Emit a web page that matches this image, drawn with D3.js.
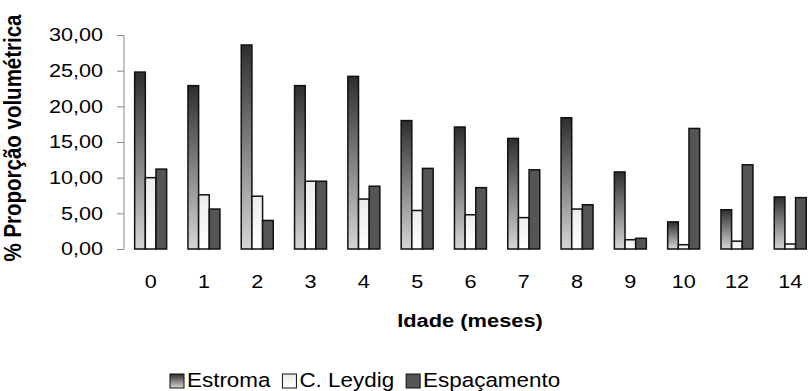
<!DOCTYPE html>
<html>
<head>
<meta charset="utf-8">
<script src="https://cdn.jsdelivr.net/npm/d3@7"></script>
<style>
  body { margin: 0; background: #fff; }
  text { font-family: "Liberation Sans", Arial, sans-serif; fill: #000; }
</style>
</head>
<body>
<div id="chart"></div>
<script>
var idades = ["0", "1", "2", "3", "4", "5", "6", "7", "8", "9", "10", "12", "14"];
var series = ["Estroma", "C. Leydig", "Espaçamento"];
var estroma = [24.8, 22.9, 28.6, 22.9, 24.2, 18.0, 17.1, 15.5, 18.4, 10.8, 3.8, 5.5, 7.3];
var leydig = [10.0, 7.6, 7.4, 9.5, 7.0, 5.4, 4.8, 4.4, 5.6, 1.3, 0.6, 1.1, 0.7];
var espacamento = [11.2, 5.6, 4.0, 9.5, 8.8, 11.3, 8.6, 11.1, 6.2, 1.5, 16.9, 11.8, 7.2];
var yTicks = [0, 5, 10, 15, 20, 25, 30];

var width = 808, height = 391;
var margin = {top: 35, left: 124, bottom: 142};
var step = 53.3;

var svg = d3.select("#chart")
  .append("svg")
    .attr("width", width)
    .attr("height", height);

var defs = svg.append("defs");
var g1 = defs.append("linearGradient").attr("id", "gradEstroma")
  .attr("x1", 0).attr("y1", 0).attr("x2", 0).attr("y2", 1);
g1.append("stop").attr("offset", "0%").attr("stop-color", "#2e2e2e");
g1.append("stop").attr("offset", "100%").attr("stop-color", "#d6d6d6");
var g2 = defs.append("linearGradient").attr("id", "gradLeydig")
  .attr("x1", 0).attr("y1", 0).attr("x2", 0).attr("y2", 1);
g2.append("stop").attr("offset", "0%").attr("stop-color", "#ececec");
g2.append("stop").attr("offset", "100%").attr("stop-color", "#ffffff");

var fills = ["url(#gradEstroma)", "url(#gradLeydig)", "#555555"];

var x = d3.scaleBand()
  .domain(idades)
  .range([margin.left, margin.left + step * idades.length])
  .paddingInner(0.4)
  .paddingOuter(0.2);

var xSub = d3.scaleBand()
  .domain(series)
  .range([0, x.bandwidth()]);

var y = d3.scaleLinear()
  .domain([0, 30])
  .range([height - margin.bottom, margin.top]);

// y axis
var yAxis = svg.append("g")
  .attr("transform", "translate(" + margin.left + ",0)")
  .call(d3.axisLeft(y).tickValues(yTicks).tickSize(7).tickPadding(14)
    .tickFormat(function(d) { return d3.format(".2f")(d).replace(".", ","); }));
yAxis.select(".domain").attr("stroke", "#888").attr("d", "M0," + y(30) + "V" + y(0));
yAxis.selectAll(".tick line").attr("stroke", "#888");
yAxis.selectAll(".tick text")
  .attr("font-size", 18)
  .attr("fill", "#111")
  .attr("x", 0)
  .attr("transform", "translate(-21,0) scale(1.2,1)");

var data = idades.map(function(d, i) {
  return {idade: d, values: [estroma[i], leydig[i], espacamento[i]]};
});

var groups = svg.append("g").selectAll("g")
  .data(data)
  .join("g")
    .attr("transform", function(d) { return "translate(" + x(d.idade) + ",0)"; });

groups.selectAll("rect")
  .data(function(d) { return d.values.map(function(v, j) { return {s: series[j], v: v, j: j}; }); })
  .join("rect")
    .attr("x", function(d) { return xSub(d.s); })
    .attr("y", function(d) { return y(d.v); })
    .attr("width", xSub.bandwidth())
    .attr("height", function(d) { return y(0) - y(d.v); })
    .attr("fill", function(d) { return fills[d.j]; })
    .attr("stroke", "#111")
    .attr("stroke-width", 1.5);

// x labels
svg.append("g").selectAll("text")
  .data(idades)
  .join("text")
    .attr("transform", function(d) { return "translate(" + (x(d) + x.bandwidth() / 2) + ",288) scale(1.2,1)"; })
    .attr("text-anchor", "middle")
    .attr("font-size", 18)
    .attr("fill", "#111")
    .text(function(d) { return d; });

// axis titles
svg.append("text")
  .attr("transform", "translate(470,327) scale(1.15,1)")
  .attr("text-anchor", "middle")
  .attr("font-size", 19)
  .attr("font-weight", "bold")
  .text("Idade (meses)");

svg.append("text")
  .attr("transform", "translate(21,138) scale(1.2,1) rotate(-90)")
  .attr("text-anchor", "middle")
  .attr("font-size", 20.5)
  .attr("font-weight", "bold")
  .text("% Proporção volumétrica");

// legend
var legend = svg.append("g");
var lx = 170;
series.forEach(function(s, i) {
  var item = legend.append("g").attr("transform", "translate(" + lx + ",0)");
  item.append("rect")
    .attr("x", 0).attr("y", 374)
    .attr("width", 14).attr("height", 14)
    .attr("fill", fills[i])
    .attr("stroke", "#111")
    .attr("stroke-width", 1);
  var t = item.append("text")
    .attr("transform", "translate(17,387) scale(1.15,1)")
    .attr("font-size", 19.5)
    .text(s);
  lx += 17 + t.node().getComputedTextLength() * 1.15 + 12;
});
</script>
</body>
</html>
